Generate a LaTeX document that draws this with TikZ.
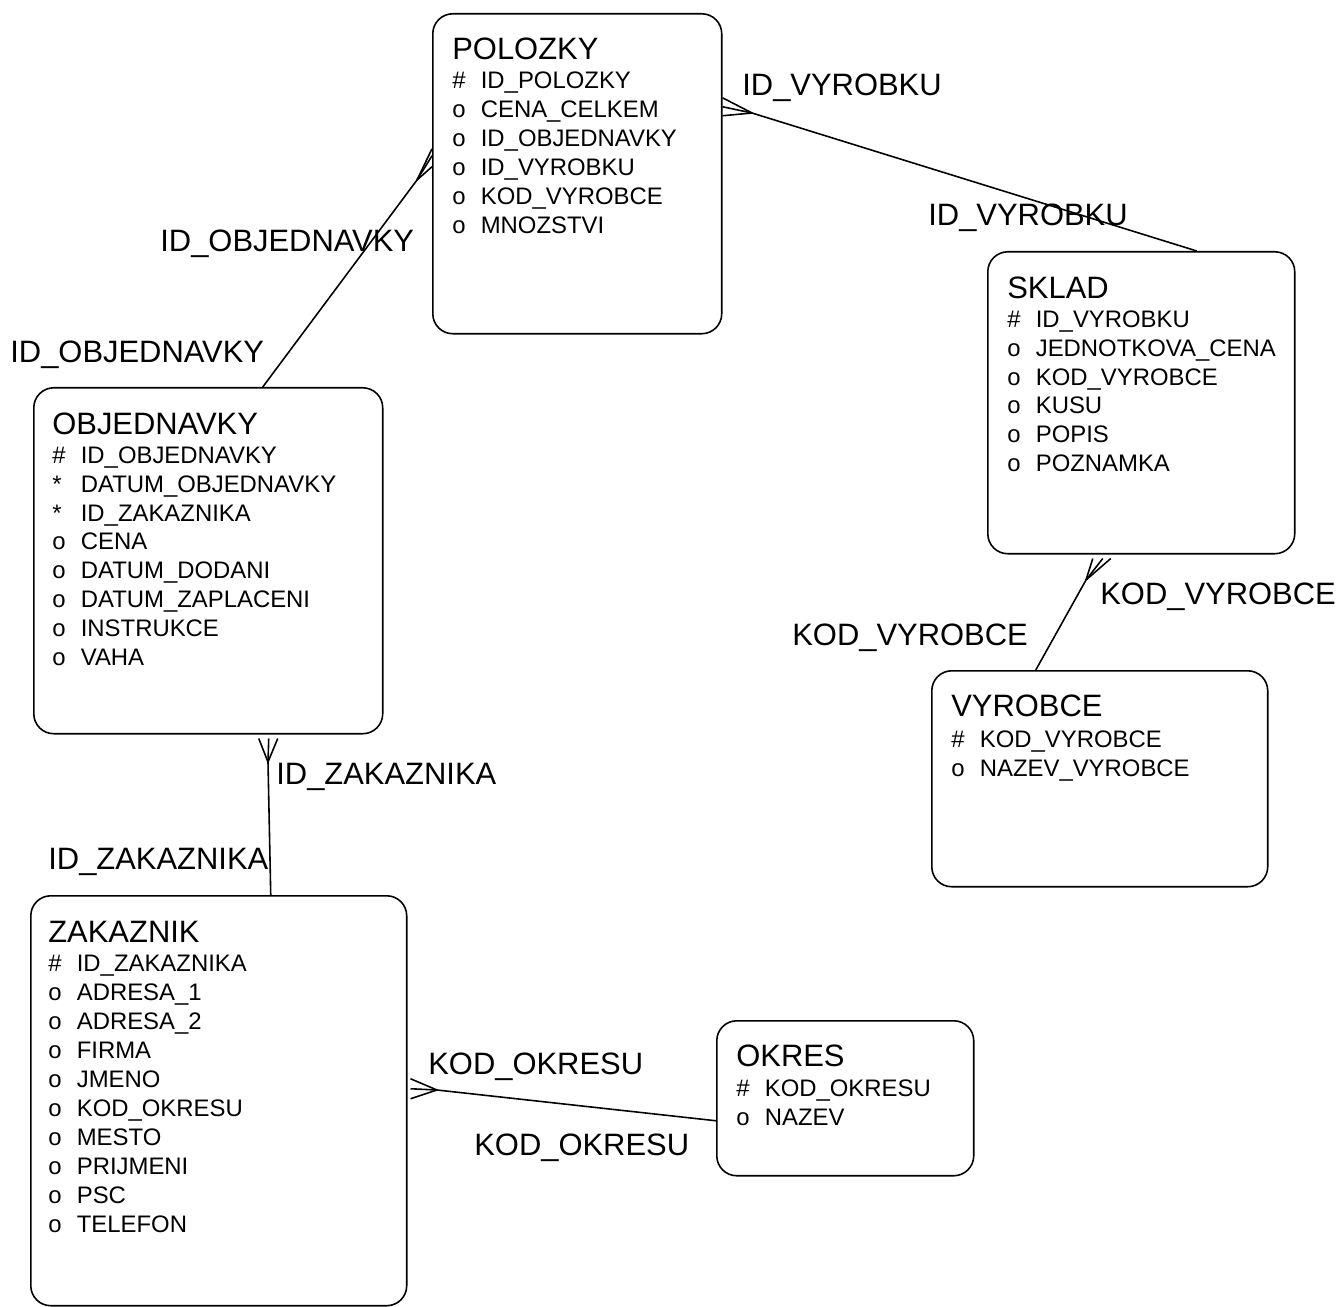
\documentclass[tikz,border=0pt]{standalone}
\usepackage{fontspec}
\setmainfont{Liberation Sans}
\usetikzlibrary{calc}
\newcommand{\attrow}[2]{\makebox[0.57cm][l]{#1}#2}

\begin{document}
\begin{tikzpicture}[x=0.02cm,y=-0.02cm,
ent/.style={rectangle,draw=black,line width=0.9pt,rounded corners=0.4cm,anchor=north west,inner sep=0pt},
ttl/.style={font=\fontsize{17.6}{20}\selectfont,anchor=west,inner sep=0pt},
atts/.style={font=\fontsize{13.6}{16.5}\selectfont,align=left,anchor=north west,inner sep=0pt},
rel/.style={font=\fontsize{17.6}{20}\selectfont,anchor=base west,inner sep=0pt},
conn/.style={line width=0.9pt}]
	\useasboundingbox (0,0) rectangle (1343,1307);
	%entities
	\node[ent,minimum width=5.78cm,minimum height=6.4cm] at (432,13) (pol) {};
	\node[ttl] at ([xshift=0.4cm,yshift=-0.72cm]pol.north west) (polt) {POLOZKY};
	\node[atts] at ([xshift=0.4cm,yshift=-1.17cm]pol.north west) (pola) {\attrow{\#}{ID\_POLOZKY}\\ \attrow{o}{CENA\_CELKEM}\\ \attrow{o}{ID\_OBJEDNAVKY}\\ \attrow{o}{ID\_VYROBKU}\\ \attrow{o}{KOD\_VYROBCE}\\ \attrow{o}{MNOZSTVI}};

	\node[ent,minimum width=6.14cm,minimum height=6.04cm] at (987,251) (skl) {};
	\node[ttl] at ([xshift=0.4cm,yshift=-0.74cm]skl.north west) (sklt) {SKLAD};
	\node[atts] at ([xshift=0.4cm,yshift=-1.18cm]skl.north west) (skla) {\attrow{\#}{ID\_VYROBKU}\\ \attrow{o}{JEDNOTKOVA\_CENA}\\ \attrow{o}{KOD\_VYROBCE}\\ \attrow{o}{KUSU}\\ \attrow{o}{POPIS}\\ \attrow{o}{POZNAMKA}};

	\node[ent,minimum width=6.98cm,minimum height=6.92cm] at (33,387) (obj) {};
	\node[ttl] at ([xshift=0.38cm,yshift=-0.74cm]obj.north west) (objt) {OBJEDNAVKY};
	\node[atts] at ([xshift=0.38cm,yshift=-1.18cm]obj.north west) (obja) {\attrow{\#}{ID\_OBJEDNAVKY}\\ \attrow{*}{DATUM\_OBJEDNAVKY}\\ \attrow{*}{ID\_ZAKAZNIKA}\\ \attrow{o}{CENA}\\ \attrow{o}{DATUM\_DODANI}\\ \attrow{o}{DATUM\_ZAPLACENI}\\ \attrow{o}{INSTRUKCE}\\ \attrow{o}{VAHA}};

	\node[ent,minimum width=6.72cm,minimum height=4.32cm] at (931,670) (vyr) {};
	\node[ttl] at ([xshift=0.4cm,yshift=-0.72cm]vyr.north west) (vyrt) {VYROBCE};
	\node[atts] at ([xshift=0.4cm,yshift=-1.2cm]vyr.north west) (vyra) {\attrow{\#}{KOD\_VYROBCE}\\ \attrow{o}{NAZEV\_VYROBCE}};

	\node[ent,minimum width=7.52cm,minimum height=8.2cm] at (30,895) (zak) {};
	\node[ttl] at ([xshift=0.36cm,yshift=-0.74cm]zak.north west) (zakt) {ZAKAZNIK};
	\node[atts] at ([xshift=0.36cm,yshift=-1.2cm]zak.north west) (zaka) {\attrow{\#}{ID\_ZAKAZNIKA}\\ \attrow{o}{ADRESA\_1}\\ \attrow{o}{ADRESA\_2}\\ \attrow{o}{FIRMA}\\ \attrow{o}{JMENO}\\ \attrow{o}{KOD\_OKRESU}\\ \attrow{o}{MESTO}\\ \attrow{o}{PRIJMENI}\\ \attrow{o}{PSC}\\ \attrow{o}{TELEFON}};

	\node[ent,minimum width=5.14cm,minimum height=3.1cm] at (716,1020) (okr) {};
	\node[ttl] at ([xshift=0.4cm,yshift=-0.72cm]okr.north west) (okrt) {OKRES};
	\node[atts] at ([xshift=0.4cm,yshift=-1.18cm]okr.north west) (okra) {\attrow{\#}{KOD\_OKRESU}\\ \attrow{o}{NAZEV}};

	%crow's feet points
	\coordinate (cf1) at (417,180);
	\coordinate (cf2) at (752,113);
	\coordinate (cf3) at (1086,580);
	\coordinate (cf4) at (268,762);
	\coordinate (cf5) at (437,1090);

	%relationships
	\draw[conn] (cf1) -- ([xshift=1.09cm]obj.north);
	\draw[conn] (cf1) -- ([yshift=0.5cm]pol.west);
	\draw[conn] (cf1) -- ([yshift=0.36cm]pol.west);
	\draw[conn] (cf1) -- ([yshift=0.14cm]pol.west);

	\draw[conn] (cf2) -- ([xshift=1.11cm]skl.north);
	\draw[conn] (cf2) -- ([yshift=1.52cm]pol.east);
	\draw[conn] (cf2) -- ([yshift=1.34cm]pol.east);
	\draw[conn] (cf2) -- ([yshift=1.16cm]pol.east);

	\draw[conn] (cf3) -- ([xshift=-1.28cm]vyr.north);
	\draw[conn] (cf3) -- ([xshift=-0.97cm,yshift=-0.08cm]skl.south);
	\draw[conn] (cf3) -- ([xshift=-0.77cm,yshift=-0.08cm]skl.south);
	\draw[conn] (cf3) -- ([xshift=-0.61cm,yshift=-0.08cm]skl.south);

	\draw[conn] (cf4) -- ([xshift=1.04cm]zak.north);
	\draw[conn] (cf4) -- ([xshift=1.01cm,yshift=-0.08cm]obj.south);
	\draw[conn] (cf4) -- ([xshift=1.21cm,yshift=-0.08cm]obj.south);
	\draw[conn] (cf4) -- ([xshift=1.39cm,yshift=-0.08cm]obj.south);

	\draw[conn] (cf5) -- ([yshift=-0.45cm]okr.west);
	\draw[conn] (cf5) -- ([xshift=0.06cm,yshift=0.44cm]zak.east);
	\draw[conn] (cf5) -- ([xshift=0.06cm,yshift=0.24cm]zak.east);
	\draw[conn] (cf5) -- ([xshift=0.06cm,yshift=0.04cm]zak.east);

	%role labels
	\node[rel] at (160,252) (r1) {ID\_OBJEDNAVKY};
	\node[rel] at (10,363) (r2) {ID\_OBJEDNAVKY};
	\node[rel] at (742,96) (r3) {ID\_VYROBKU};
	\node[rel] at (928,226) (r4) {ID\_VYROBKU};
	\node[rel] at (1100,604) (r5) {KOD\_VYROBCE};
	\node[rel] at (792,645) (r6) {KOD\_VYROBCE};
	\node[rel] at (276,784) (r7) {ID\_ZAKAZNIKA};
	\node[rel] at (48,869) (r8) {ID\_ZAKAZNIKA};
	\node[rel] at (428,1074) (r9) {KOD\_OKRESU};
	\node[rel] at (474,1155) (r10) {KOD\_OKRESU};
\end{tikzpicture}
\end{document}
